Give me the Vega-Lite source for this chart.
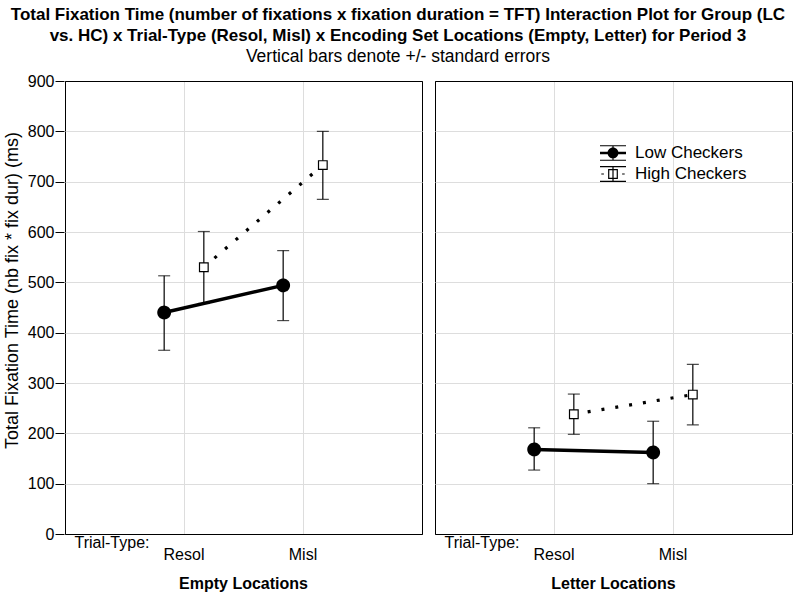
{
  "$schema": "https://vega.github.io/schema/vega-lite/v6.json",
  "padding": {"left": 3, "top": 5, "right": 4, "bottom": 5},
  "background": "white",
  "config": {
    "font": "Liberation Sans",
    "view": {"stroke": "black", "strokeWidth": 1}
  },
  "title": {
    "text": ["Total Fixation Time (number of fixations x fixation duration = TFT) Interaction Plot for Group (LC", "vs. HC) x Trial-Type (Resol, Misl) x Encoding Set Locations (Empty, Letter) for Period 3"],
    "subtitle": "Vertical bars denote +/- standard errors",
    "fontSize": 17,
    "fontWeight": "bold",
    "lineHeight": 21,
    "color": "black",
    "subtitleFontSize": 17.5,
    "subtitleColor": "black",
    "subtitlePadding": 3,
    "anchor": "middle",
    "frame": "bounds",
    "offset": 7
  },
  "data": {
    "values": [
      {"loc": "Empty Locations", "trial": "Resol", "group": "Low Checkers", "mean": 440, "lo": 365, "hi": 513},
      {"loc": "Empty Locations", "trial": "Misl", "group": "Low Checkers", "mean": 494, "lo": 424, "hi": 563},
      {"loc": "Empty Locations", "trial": "Resol", "group": "High Checkers", "mean": 530, "lo": 458, "hi": 601},
      {"loc": "Empty Locations", "trial": "Misl", "group": "High Checkers", "mean": 733, "lo": 665, "hi": 800},
      {"loc": "Letter Locations", "trial": "Resol", "group": "Low Checkers", "mean": 168, "lo": 127, "hi": 211},
      {"loc": "Letter Locations", "trial": "Misl", "group": "Low Checkers", "mean": 162, "lo": 100, "hi": 224},
      {"loc": "Letter Locations", "trial": "Resol", "group": "High Checkers", "mean": 238, "lo": 198, "hi": 278},
      {"loc": "Letter Locations", "trial": "Misl", "group": "High Checkers", "mean": 277, "lo": 217, "hi": 337}
    ]
  },
  "facet": {
    "column": {
      "field": "loc",
      "type": "nominal",
      "sort": ["Empty Locations", "Letter Locations"],
      "title": null,
      "header": {"labelOrient": "bottom", "labelFontSize": 16, "labelFontWeight": "bold", "labelColor": "black", "labelPadding": 13}
    }
  },
  "spacing": 11,
  "resolve": {"axis": {"x": "independent"}},
  "spec": {
    "width": 357,
    "height": 453,
    "encoding": {
      "x": {
        "field": "trial",
        "type": "nominal",
        "sort": ["Resol", "Misl"],
        "scale": {"type": "band", "paddingInner": 0, "paddingOuter": 0.5},
        "axis": {
          "title": "Trial-Type:",
          "titleAnchor": "start",
          "titleAlign": "left",
          "titleBaseline": "alphabetic",
          "titleX": 9,
          "titleY": 13,
          "titleFontSize": 16,
          "titleFontWeight": "normal",
          "titleColor": "black",
          "labelAngle": 0,
          "labelFontSize": 16,
          "labelColor": "black",
          "labelPadding": 12,
          "ticks": false,
          "domain": false,
          "grid": true,
          "gridColor": "#dddddd",
          "bandPosition": 0.5
        }
      },
      "xOffset": {
        "field": "group",
        "type": "nominal",
        "scale": {"type": "point", "padding": 2.75, "domain": ["Low Checkers", "High Checkers"]}
      },
      "y": {
        "field": "mean",
        "type": "quantitative",
        "scale": {"domain": [0, 900], "nice": false},
        "axis": {
          "title": "Total Fixation Time (nb fix * fix dur) (ms)",
          "values": [0, 100, 200, 300, 400, 500, 600, 700, 800, 900],
          "grid": true,
          "gridColor": {"condition": {"test": "datum.value === 0 || datum.value === 900", "value": "black"}, "value": "#dddddd"},
          "domain": false,
          "tickColor": "black",
          "tickSize": 9,
          "labelFontSize": 16,
          "labelColor": "black",
          "labelPadding": 1,
          "titleFontSize": 18,
          "titleFontWeight": "normal",
          "titleColor": "black",
          "titlePadding": 6,
          "titleY": 209
        }
      }
    },
    "layer": [
      {
        "transform": [{"filter": "datum.group === 'Low Checkers'"}],
        "mark": {"type": "line", "color": "black", "strokeWidth": 3.5}
      },
      {
        "transform": [{"filter": "datum.group === 'High Checkers'"}],
        "mark": {"type": "line", "color": "black", "strokeWidth": 3.2, "strokeDash": [3, 11]}
      },
      {
        "mark": {"type": "rule", "color": "black", "strokeWidth": 1.2},
        "encoding": {
          "y": {"field": "lo", "type": "quantitative"},
          "y2": {"field": "hi"}
        }
      },
      {
        "mark": {"type": "tick", "color": "black", "size": 12, "thickness": 1.2, "orient": "horizontal"},
        "encoding": {
          "y": {"field": "lo", "type": "quantitative"}
        }
      },
      {
        "mark": {"type": "tick", "color": "black", "size": 12, "thickness": 1.2, "orient": "horizontal"},
        "encoding": {
          "y": {"field": "hi", "type": "quantitative"}
        }
      },
      {
        "transform": [{"filter": "datum.group === 'Low Checkers'"}],
        "mark": {"type": "point", "shape": "circle", "size": 140, "filled": true, "fill": "black", "stroke": "black", "opacity": 1},
        "encoding": {
          "strokeDash": {
            "field": "group",
            "type": "nominal",
            "scale": {"domain": ["Low Checkers"], "range": [[1, 0]]},
            "legend": {
              "title": null,
              "orient": "none",
              "legendX": 534,
              "legendY": 58,
              "symbolSize": 676,
              "symbolStrokeWidth": 1.2,
              "symbolStrokeColor": "black",
              "symbolFillColor": "black",
              "symbolType": "M-1,-0.6H1V-0.52H-1ZM-1,0.52H1V0.6H-1ZM-0.045,-0.56H0.045V0.56H-0.045ZM-1,-0.1H1V0.1H-1ZM0.42,0A0.42,0.42 0 1,1 -0.42,0A0.42,0.42 0 1,1 0.42,0Z",
              "labelFontSize": 17,
              "labelColor": "black",
              "labelOffset": 8
            }
          }
        }
      },
      {
        "transform": [{"filter": "datum.group === 'High Checkers'"}],
        "mark": {"type": "point", "shape": "square", "size": 75, "filled": true, "stroke": "black", "strokeWidth": 1.2, "opacity": 1},
        "encoding": {
          "fill": {
            "field": "group",
            "type": "nominal",
            "scale": {"domain": ["High Checkers"], "range": ["white"]},
            "legend": {
              "title": null,
              "orient": "none",
              "legendX": 534,
              "legendY": 79,
              "symbolSize": 676,
              "symbolStrokeWidth": 1.2,
              "symbolStrokeColor": "black",
              "symbolType": "M-1,-0.56H1M-1,0.56H1M0,-0.56V0.56M-0.9,0H-0.7M0.7,0H0.9M-0.33,-0.33H0.33V0.33H-0.33Z",
              "labelFontSize": 17,
              "labelColor": "black",
              "labelOffset": 8
            }
          }
        }
      }
    ]
  }
}
